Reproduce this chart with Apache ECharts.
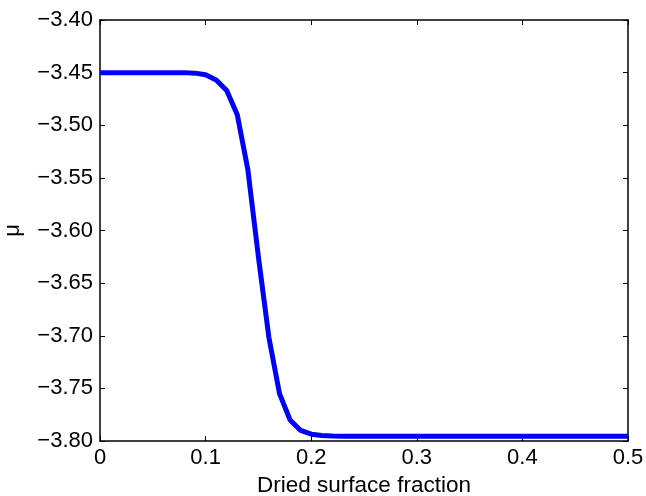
<!DOCTYPE html>
<html>
<head>
<meta charset="utf-8">
<script src="https://cdn.jsdelivr.net/npm/echarts@6/dist/echarts.min.js"></script>
<style>
html,body{margin:0;padding:0;background:#fff;}
#chart{width:646px;height:496px;}
</style>
</head>
<body>
<div id="chart"></div>
<script>
const xValues = [0.00,0.01,0.02,0.03,0.04,0.05,0.06,0.07,0.08,0.09,
                 0.10,0.11,0.12,0.13,0.14,0.15,0.16,0.17,0.18,0.19,
                 0.20,0.21,0.22,0.23,0.24,0.25,0.26,0.27,0.28,0.29,
                 0.30,0.31,0.32,0.33,0.34,0.35,0.36,0.37,0.38,0.39,
                 0.40,0.41,0.42,0.43,0.44,0.45,0.46,0.47,0.48,0.49,0.50];
const muValues = [-3.450,-3.450,-3.450,-3.450,-3.450,-3.450,-3.450,-3.450,-3.450,-3.4505,
                  -3.452,-3.457,-3.467,-3.490,-3.542,-3.625,-3.702,-3.755,-3.780,-3.790,
                  -3.7935,-3.7948,-3.7953,-3.7955,-3.7955,-3.7955,-3.7955,-3.7955,-3.7955,-3.7955,
                  -3.7955,-3.7955,-3.7955,-3.7955,-3.7955,-3.7955,-3.7955,-3.7955,-3.7955,-3.7955,
                  -3.7955,-3.7955,-3.7955,-3.7955,-3.7955,-3.7955,-3.7955,-3.7955,-3.7955,-3.7955,-3.7955];
const xTitle = 'Dried surface fraction';
const yTitle = 'μ';

const FONT = "'Liberation Sans', Arial, sans-serif";
const chart = echarts.init(document.getElementById('chart'), null, {renderer:'canvas'});
const axLine = {show:true, onZero:false, lineStyle:{color:'#000', width:1.5}};
const tick = {show:true, inside:true, length:5, lineStyle:{color:'#000', width:1}};
chart.setOption({
  animation:false,
  backgroundColor:'#fff',
  grid:{left:100, top:20, right:18, bottom:55, containLabel:false, outerBoundsMode:'none'},
  xAxis:[{
    type:'value', min:0, max:0.5, interval:0.1, position:'bottom',
    axisLine:axLine, axisTick:tick, splitLine:{show:false},
    axisLabel:{color:'#000', fontFamily:FONT, fontSize:22, margin:6,
      formatter:v => v === 0 ? '0' : v.toFixed(1)},
    name:xTitle, nameLocation:'middle', nameGap:26,
    nameTextStyle:{color:'#000', fontFamily:FONT, fontSize:22.5}
  },{
    type:'value', min:0, max:0.5, interval:0.1, position:'top',
    axisLine:axLine, axisTick:tick, splitLine:{show:false}, axisLabel:{show:false}
  }],
  yAxis:[{
    type:'value', min:-3.8, max:-3.4, interval:0.05, position:'left',
    axisLine:axLine, axisTick:tick, splitLine:{show:false},
    axisLabel:{color:'#000', fontFamily:FONT, fontSize:22, margin:7,
      formatter:v => v.toFixed(2).replace('-', '\u2212')},
    name:yTitle, nameLocation:'middle', nameGap:76,
    nameTextStyle:{color:'#000', fontFamily:FONT, fontSize:22}
  },{
    type:'value', min:-3.8, max:-3.4, interval:0.05, position:'right',
    axisLine:axLine, axisTick:tick, splitLine:{show:false}, axisLabel:{show:false}
  }],
  series:[{
    type:'line', xAxisIndex:0, yAxisIndex:0,
    data:xValues.map((x,i)=>[x, muValues[i]]),
    showSymbol:false, symbol:'none',
    lineStyle:{color:'#0000ff', width:5}, z:1
  }]
});
</script>
</body>
</html>
